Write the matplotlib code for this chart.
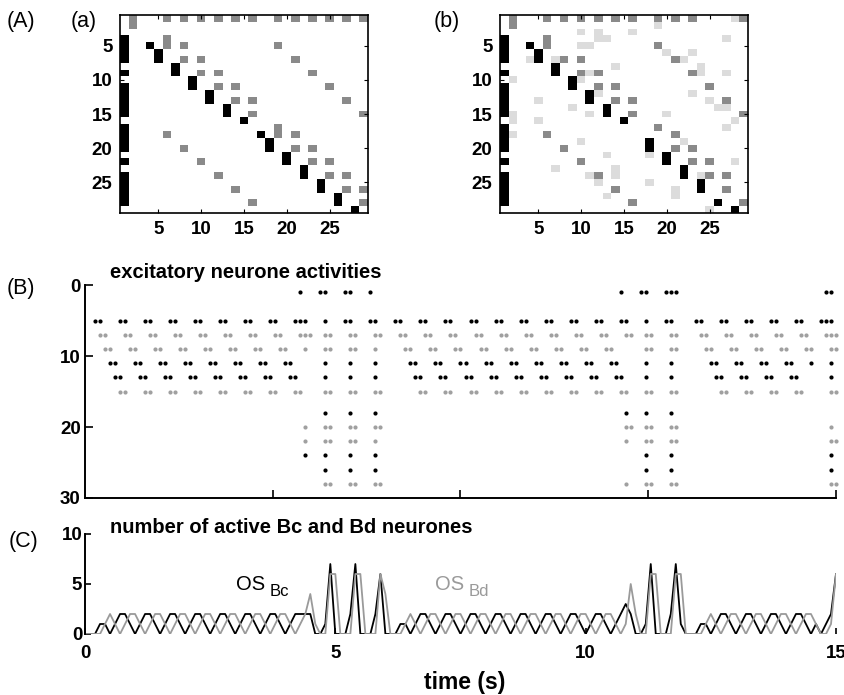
import numpy as np
import matplotlib
matplotlib.use("Agg")
import matplotlib.pyplot as plt
from matplotlib.colors import ListedColormap

plt.rcParams['font.family'] = ['Liberation Sans', 'DejaVu Sans']

# ======================================
# Panel A data: 29 x 29 matrices, cells as (row, column)
# ======================================
n_cells = 29
col1_rows = [4, 5, 6, 7, 9, 11, 12, 13, 14, 15, 17, 18, 19, 20, 22, 24, 25, 26, 27, 28]

diag_a = [(5, 4), (6, 5), (7, 5), (8, 7), (9, 7), (10, 9), (11, 9), (12, 11), (13, 11),
          (14, 13), (15, 13), (16, 15), (18, 17), (19, 18), (20, 18), (21, 20), (22, 20),
          (23, 22), (24, 22), (25, 24), (26, 24), (27, 26), (28, 26), (29, 28)]
diag_b = [(5, 4), (6, 5), (7, 5), (8, 7), (9, 7), (10, 9), (11, 9), (12, 11), (13, 11),
          (14, 13), (15, 13), (16, 15), (19, 18), (20, 18), (21, 20), (22, 20),
          (23, 22), (24, 22), (25, 24), (26, 24), (28, 26), (29, 28)]

mid_a = [(1, 2), (2, 2),
         (1, 6), (1, 8), (1, 10), (1, 12), (1, 14), (1, 16), (1, 19), (1, 21), (1, 23), (1, 25), (1, 27), (1, 29),
         (4, 6), (5, 6), (5, 8), (5, 19), (7, 8), (7, 10), (7, 21), (9, 10), (9, 12), (9, 23),
         (11, 12), (11, 14), (11, 25), (13, 14), (13, 16), (13, 27), (15, 16), (15, 29),
         (17, 19), (18, 19), (18, 6), (18, 21), (20, 8), (20, 21), (20, 23),
         (22, 10), (22, 23), (22, 25), (24, 12), (24, 25), (24, 27),
         (26, 14), (26, 27), (26, 29), (28, 16), (28, 29)]

mid_b = [(1, 2), (2, 2),
         (1, 6), (1, 8), (1, 10), (1, 12), (1, 14), (1, 16), (1, 19), (1, 21), (1, 23), (1, 29),
         (4, 6), (5, 6), (5, 19), (7, 8), (7, 10), (7, 21), (9, 10), (9, 12), (9, 23),
         (11, 12), (11, 14), (11, 25), (13, 14), (13, 16), (13, 27), (15, 16), (15, 29),
         (17, 19), (18, 6), (18, 21), (20, 8), (20, 21), (20, 23),
         (22, 10), (22, 23), (22, 25), (24, 12), (24, 25), (24, 27),
         (26, 14), (26, 27), (28, 16), (28, 29)]

light_b = [(1, 28), (2, 19), (3, 10), (3, 12), (3, 16), (4, 12), (4, 13), (4, 27),
           (5, 10), (5, 11), (6, 20), (6, 23), (7, 4), (7, 7), (7, 22), (8, 14), (8, 24),
           (9, 11), (9, 24), (9, 27), (10, 2), (10, 10), (12, 12), (12, 23), (13, 5), (13, 25),
           (14, 9), (14, 26), (14, 27), (15, 2), (15, 11), (15, 20), (16, 2), (16, 5), (16, 28),
           (17, 27), (18, 2), (19, 10), (19, 22), (21, 13), (21, 18), (22, 28),
           (23, 7), (23, 14), (24, 11), (24, 14), (24, 24), (25, 12), (25, 18),
           (26, 21), (27, 21), (27, 13), (29, 25)]

# ======================================
# Panel B data: spike runs per neurone as (start time s, number of 0.1 s steps)
# ======================================
dt = 0.1
bc_n1 = [(4.3, 1), (4.7, 2), (5.2, 2), (5.7, 1), (10.7, 1), (11.1, 2), (11.6, 3), (14.8, 2)]
bc_n5 = [(0.2, 2), (0.7, 2), (1.2, 2), (1.7, 2), (2.2, 2), (2.7, 2), (3.2, 2), (3.7, 2), (4.2, 3),
         (4.8, 1), (5.2, 2), (5.7, 2), (6.2, 2), (6.7, 2), (7.2, 2), (7.7, 2), (8.2, 2), (8.7, 2),
         (9.2, 2), (9.7, 2), (10.2, 2), (10.7, 2), (11.2, 1), (11.6, 2), (12.2, 2), (12.7, 2),
         (13.2, 2), (13.7, 2), (14.2, 2), (14.7, 3)]
bc_n11 = [(0.5, 2), (1.0, 2), (1.5, 2), (2.0, 2), (2.5, 2), (3.0, 2), (3.5, 2), (4.0, 2),
          (4.8, 1), (5.3, 1), (5.8, 1), (6.5, 2), (7.0, 2), (7.5, 2), (8.0, 2), (8.5, 2), (9.0, 2),
          (9.5, 2), (10.0, 2), (10.5, 2), (11.2, 1), (11.7, 1), (12.5, 2), (13.0, 2), (13.5, 2),
          (14.0, 2), (14.5, 1), (14.9, 1)]
bc_n13 = [(0.6, 2), (1.1, 2), (1.6, 2), (2.1, 2), (2.6, 2), (3.1, 2), (3.6, 2), (4.1, 2),
          (4.8, 1), (5.3, 1), (5.8, 1), (6.6, 2), (7.1, 2), (7.6, 2), (8.1, 2), (8.6, 2), (9.1, 2),
          (9.6, 2), (10.1, 2), (10.6, 2), (11.2, 1), (11.7, 1), (12.6, 2), (13.1, 2), (13.6, 2),
          (14.1, 2), (14.9, 1)]
bc_n18 = [(4.8, 1), (5.3, 1), (5.8, 1), (10.8, 1), (11.2, 1), (11.7, 1)]
bc_n24 = [(4.4, 1), (4.8, 1), (5.3, 1), (5.8, 1), (11.2, 1), (11.7, 1), (14.9, 1)]
bc_n26 = [(4.8, 1), (5.3, 1), (5.8, 1), (11.2, 1), (11.7, 1), (14.9, 1)]

bd_n7 = [(0.3, 2), (0.8, 2), (1.3, 2), (1.8, 2), (2.3, 2), (2.8, 2), (3.3, 2), (3.8, 2), (4.3, 3),
         (4.8, 2), (5.3, 2), (5.8, 2), (6.3, 2), (6.8, 2), (7.3, 2), (7.8, 2), (8.3, 2), (8.8, 2),
         (9.3, 2), (9.8, 2), (10.3, 2), (10.8, 2), (11.2, 2), (11.7, 2), (12.3, 2), (12.8, 2),
         (13.3, 2), (13.8, 2), (14.3, 2), (14.8, 3)]
bd_n9 = [(0.4, 2), (0.9, 2), (1.4, 2), (1.9, 2), (2.4, 2), (2.9, 2), (3.4, 2), (3.9, 2), (4.4, 1),
         (4.8, 2), (5.3, 2), (5.8, 1), (6.4, 2), (6.9, 2), (7.4, 2), (7.9, 2), (8.4, 2), (8.9, 2),
         (9.4, 2), (9.9, 2), (10.4, 2), (11.2, 2), (11.7, 2), (12.4, 2), (12.9, 2), (13.4, 2),
         (13.9, 2), (14.4, 2), (14.9, 2)]
bd_n15 = [(0.7, 2), (1.2, 2), (1.7, 2), (2.2, 2), (2.7, 2), (3.2, 2), (3.7, 2), (4.2, 2),
          (4.8, 2), (5.3, 2), (5.8, 2), (6.7, 2), (7.2, 2), (7.7, 2), (8.2, 2), (8.7, 2), (9.2, 2),
          (9.7, 2), (10.2, 2), (10.7, 2), (11.2, 2), (11.7, 2), (12.7, 2), (13.2, 2), (13.7, 2),
          (14.2, 2), (14.9, 2)]
bd_n20 = [(4.4, 1), (4.8, 2), (5.3, 2), (5.8, 2), (10.8, 2), (11.2, 2), (11.7, 2), (14.9, 1)]
bd_n22 = [(4.4, 1), (4.8, 2), (5.3, 2), (5.8, 1), (10.8, 1), (11.2, 2), (11.7, 2), (14.9, 2)]
bd_n28 = [(4.8, 2), (5.3, 2), (5.8, 2), (10.8, 1), (11.2, 2), (11.7, 2), (14.9, 2)]

bc_trains = {1: bc_n1, 5: bc_n5, 11: bc_n11, 13: bc_n13, 18: bc_n18, 24: bc_n24, 26: bc_n26}
bd_trains = {7: bd_n7, 9: bd_n9, 15: bd_n15, 20: bd_n20, 22: bd_n22, 28: bd_n28}

black = 'black'
grey_dot = '#a0a0a0'
grey_line = '#9a9a9a'


def spike_steps(runs):
    steps = []
    for start, n in runs:
        k0 = int(round(start / dt))
        steps.extend(range(k0, k0 + n))
    return steps


def build_matrix(black_cells, mid_cells, light_cells):
    m = np.zeros((n_cells, n_cells))
    for r, c in light_cells:
        m[r - 1, c - 1] = 1
    for r, c in mid_cells:
        m[r - 1, c - 1] = 2
    for r, c in black_cells:
        m[r - 1, c - 1] = 3
    return m


W, H = 845, 695
fig = plt.figure(figsize=(W / 100, H / 100), dpi=100)


def px_axes(left, top, right, bottom):
    return fig.add_axes([left / W, 1 - bottom / H, (right - left) / W, (bottom - top) / H])


# ======================================
# Panel A
# ======================================
cmap = ListedColormap(['white', '#dcdcdc', '#8a8a8a', 'black'])
col1 = [(r, 1) for r in col1_rows]
mats = [build_matrix(col1 + diag_a, mid_a, []),
        build_matrix(col1 + diag_b, mid_b, light_b)]
for left, m in zip([120, 500], mats):
    ax = px_axes(left, 15, left + 248, 213)
    ax.imshow(m, cmap=cmap, vmin=0, vmax=3, aspect='auto', interpolation='nearest',
              extent=(0.5, n_cells + 0.5, n_cells + 0.5, 0.5))
    ax.set_xticks([5, 10, 15, 20, 25])
    ax.set_yticks([5, 10, 15, 20, 25])
    ax.tick_params(direction='in', length=3, width=0.8, top=True, right=True,
                   labelsize=13.5, pad=5.5)
    for lab in ax.get_xticklabels() + ax.get_yticklabels():
        lab.set_fontweight('bold')
    for sp in ax.spines.values():
        sp.set_linewidth(1.2)

# ======================================
# Panel B: raster
# ======================================
axB = px_axes(85, 285, 836, 498)
for trains, col in [(bc_trains, black), (bd_trains, grey_dot)]:
    for neuron, runs in trains.items():
        t = np.array(spike_steps(runs)) * dt
        axB.plot(t, np.full(len(t), neuron), 'o', color=col, ms=3.0, mew=0, clip_on=False)
axB.set_xlim(0, 15)
axB.set_ylim(30, 0)
axB.set_yticks([0, 10, 20, 30])
axB.set_xticks([3.75, 7.5, 11.25, 15])
axB.set_xticklabels([])
axB.tick_params(direction='in', length=5.5, width=1.2, labelsize=13.5, pad=3)
for lab in axB.get_yticklabels():
    lab.set_fontweight('bold')
axB.spines['top'].set_visible(False)
axB.spines['right'].set_visible(False)
for sp in ['left', 'bottom']:
    axB.spines[sp].set_linewidth(1.4)

# ======================================
# Panel C: number of active neurones (counted from raster, one step later)
# ======================================
n_steps = 151
count_bc = np.zeros(n_steps)
count_bd = np.zeros(n_steps)
for runs in bc_trains.values():
    for k in spike_steps(runs):
        count_bc[k] += 1
for runs in bd_trains.values():
    for k in spike_steps(runs):
        count_bd[k] += 1
tc = np.concatenate([[0.0], (np.arange(n_steps) + 1) * dt])

axC = px_axes(85, 534, 836, 634)
axC.plot(tc, np.concatenate([[0], count_bc]), color=black, lw=1.3)
axC.plot(tc, np.concatenate([[0], count_bd]), color=grey_line, lw=1.3)
axC.set_xlim(0, 15)
axC.set_ylim(0, 10)
axC.set_xticks([0, 5, 10, 15])
axC.set_yticks([0, 5, 10])
axC.tick_params(axis='y', direction='in', length=4.5, width=1.2, labelsize=13.5, pad=2)
axC.tick_params(axis='x', direction='in', length=4.5, width=1.2, labelsize=13.5, pad=8)
for lab in axC.get_xticklabels() + axC.get_yticklabels():
    lab.set_fontweight('bold')
for sp in ['top', 'right', 'bottom']:
    axC.spines[sp].set_visible(False)
axC.spines['left'].set_linewidth(1.4)


# ======================================
# Text
# ======================================
def ftext(x, y, s, va='center', **kw):
    fig.text(x / W, 1 - y / H, s, va=va, **kw)


ftext(7, 21, '(A)', fontsize=15.5)
ftext(71, 21, '(a)', fontsize=15.5)
ftext(434, 21, '(b)', fontsize=15.5)
ftext(7, 288, '(B)', fontsize=15.5)
ftext(9, 541, '(C)', fontsize=15.5)
ftext(110, 278, 'excitatory neurone activities', va='baseline', fontsize=14.5, fontweight='bold')
ftext(110, 533, 'number of active Bc and Bd neurones', va='baseline', fontsize=14.5, fontweight='bold')
ftext(465, 683, 'time (s)', fontsize=16.5, fontweight='bold', ha='center')
ftext(236, 585, 'OS', fontsize=14.5, color=black)
ftext(270, 592, 'Bc', fontsize=12, color=black)
ftext(435, 585, 'OS', fontsize=14.5, color=grey_line)
ftext(469, 592, 'Bd', fontsize=12, color=grey_line)

fig.savefig('out.png', dpi=100)
